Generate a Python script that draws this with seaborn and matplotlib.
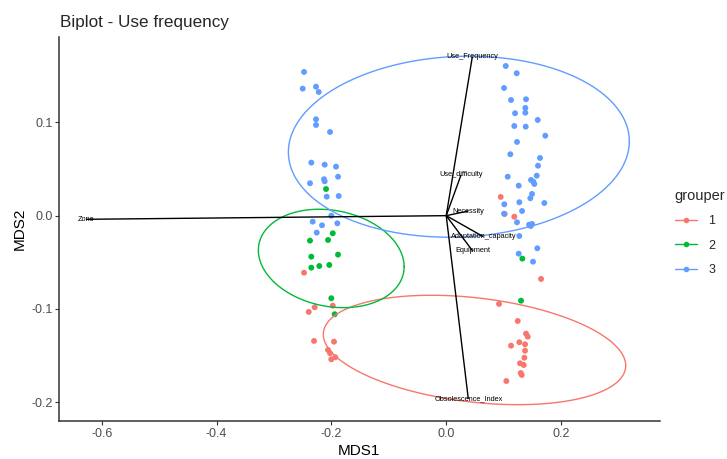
import numpy as np
import pandas as pd
import matplotlib
matplotlib.use("Agg")
import matplotlib.pyplot as plt
from matplotlib.lines import Line2D
import seaborn as sns

# ---------------- data ----------------
groups = ["1", "2", "3"]
colors = ["#F8766D", "#00BA38", "#619CFF"]

mds1_g1 = [-0.2477, -0.2291, -0.2395, -0.1977, -0.2303, -0.1955, -0.2059, -0.2024, -0.2002, -0.1932,
           0.0949, 0.1019, 0.1186, 0.1652, 0.0920, 0.1246, 0.1390, 0.1420, 0.1129, 0.1273,
           0.1373, 0.1373, 0.1361, 0.1286, 0.1350, 0.1298, 0.1315, 0.1047]
mds2_g1 = [-0.0612, -0.0983, -0.1033, -0.0966, -0.1344, -0.1352, -0.1441, -0.1476, -0.1541, -0.1519,
           0.0201, 0.0018, -0.0011, -0.0679, -0.0947, -0.1130, -0.1266, -0.1298, -0.1395, -0.1358,
           -0.1380, -0.1449, -0.1524, -0.1584, -0.1602, -0.1688, -0.1709, -0.1774]

mds1_g2 = [-0.2094, -0.1977, -0.2373, -0.2059, -0.2350, -0.1885, -0.2350, -0.2211, -0.2037, -0.2002,
           -0.1943, 0.1326, 0.1303]
mds2_g2 = [0.0286, -0.0189, -0.0268, -0.0261, -0.0440, -0.0418, -0.0558, -0.0540, -0.0529, -0.0886,
           -0.1058, -0.0461, -0.0912]

mds1_g3 = [-0.2477, -0.2500, -0.2268, -0.2221, -0.2268, -0.2268, -0.2024, -0.2350, -0.2117, -0.1920,
           -0.1885, -0.2129, -0.2117, -0.2373, -0.2082, -0.1873, -0.2002, -0.2326, -0.2164, -0.1897,
           -0.2256,
           0.1037, 0.1228, 0.1007, 0.1129, 0.1390, 0.1378, 0.1199, 0.1378, 0.1594, 0.1186,
           0.1385, 0.1726, 0.1233, 0.1117, 0.1634, 0.1599, 0.1577, 0.1071, 0.1477, 0.1517,
           0.1535, 0.1263, 0.1495, 0.1465, 0.1012, 0.1273, 0.1709, 0.1321, 0.1007, 0.1233,
           0.1443, 0.1472, 0.1495, 0.1273, 0.1587, 0.1263, 0.1512]
mds2_g3 = [0.1542, 0.1363, 0.1384, 0.1327, 0.1034, 0.0973, 0.0898, 0.0569, 0.0547, 0.0526,
           0.0418, 0.0391, 0.0369, 0.0348, 0.0204, 0.0211, 0.0000, -0.0064, -0.0103, -0.0082,
           -0.0182,
           0.1606, 0.1528, 0.1370, 0.1241, 0.1249, 0.1156, 0.1099, 0.1105, 0.1027, 0.0962,
           0.0955, 0.0858, 0.0791, 0.0659, 0.0619, 0.0536, 0.0429, 0.0418, 0.0383, 0.0365,
           0.0340, 0.0322, 0.0233, 0.0187, 0.0122, 0.0144, 0.0136, 0.0050, 0.0021, -0.0071,
           -0.0097, -0.0111, -0.0089, -0.0218, -0.0350, -0.0408, -0.0494]

# ellipse parameters per group (centre, x half-extent, y half-extent, y offset at x-extreme)
ell_cx = [0.0493, -0.2003, 0.0220]
ell_cy = [-0.1441, -0.0459, 0.0740]
ell_xe = [0.2634, 0.1270, 0.2970]
ell_ye = [0.0587, 0.0528, 0.0971]
ell_r = [-0.0168, -0.0088, 0.0058]

# variable loadings (arrow tips)
var_names = ["Use_Frequency", "Use_difficulty", "Necessity", "Adaptation_capacity",
             "Equipment", "Obsolescence_Index", "Zone"]
var_x = [0.0455, 0.0258, 0.0385, 0.0646, 0.0461, 0.0385, -0.6275]
var_y = [0.1706, 0.0437, 0.0050, -0.0225, -0.0379, -0.1967, -0.0039]

x_ticks = [-0.6, -0.4, -0.2, 0.0, 0.2]
y_ticks = [-0.2, -0.1, 0.0, 0.1]

title = "Biplot - Use frequency"
legend_title = "grouper"

# ---------------- frame ----------------
df = pd.concat([
    pd.DataFrame({"MDS1": mds1_g1, "MDS2": mds2_g1, "grouper": "1"}),
    pd.DataFrame({"MDS1": mds1_g2, "MDS2": mds2_g2, "grouper": "2"}),
    pd.DataFrame({"MDS1": mds1_g3, "MDS2": mds2_g3, "grouper": "3"}),
], ignore_index=True)

sns.set_style("ticks")
plt.rcParams["font.family"] = ["Liberation Sans", "DejaVu Sans"]

fig = plt.figure(figsize=(7.27, 4.59), dpi=100)
ax = fig.add_axes([0.0816, 0.0828, 0.9072 - 0.0816, 0.920 - 0.0828])

palette = dict(zip(groups, colors))
sns.scatterplot(data=df, x="MDS1", y="MDS2", hue="grouper", hue_order=groups,
                palette=palette, s=18, linewidth=0, ax=ax, legend=False, zorder=2)

t = np.linspace(0, 2 * np.pi, 300)
for g, cx, cy, xe, ye, r in zip(groups, ell_cx, ell_cy, ell_xe, ell_ye, ell_r):
    ex = cx + xe * np.cos(t)
    ey = cy + r * np.cos(t) + np.sqrt(ye ** 2 - r ** 2) * np.sin(t)
    ax.plot(ex, ey, color=palette[g], lw=1.0, zorder=3)

for name, vx, vy in zip(var_names, var_x, var_y):
    ax.plot([0, vx], [0, vy], color="black", lw=1.0, zorder=4, solid_capstyle="butt")
    ax.text(vx, vy, name, fontsize=5.3, ha="center", va="center", color="black", zorder=5)

ax.set_xlim(-0.674, 0.3716)
ax.set_ylim(-0.2203, 0.192)
ax.set_xticks(x_ticks)
ax.set_yticks(y_ticks)
ax.set_xticklabels([f"{v:.1f}" for v in x_ticks])
ax.set_yticklabels([f"{v:.1f}" for v in y_ticks])
ax.tick_params(axis="both", labelsize=9, labelcolor="#4d4d4d", color="#333333",
               length=3, width=0.8, pad=2)
for s in ["top", "right"]:
    ax.spines[s].set_visible(False)
for s in ["left", "bottom"]:
    ax.spines[s].set_color("#333333")
    ax.spines[s].set_linewidth(1.1)
ax.grid(False)
ax.set_xlabel("MDS1", fontsize=11, color="black", labelpad=3)
ax.set_ylabel("MDS2", fontsize=11, color="black", labelpad=3)

fig.text(60.5 / 727, 1 - 22 / 459, title, fontsize=12.3, ha="left", va="center")

handles = [Line2D([0], [0], color=c, lw=1.0, marker="o", markersize=4, markeredgewidth=0)
           for c in colors]
leg = fig.legend(handles, groups, title=legend_title, loc="upper left",
                 bbox_to_anchor=(667 / 727, 1 - 181 / 459), frameon=False,
                 fontsize=9, title_fontsize=10.5, handlelength=1.8, labelspacing=1.0,
                 handletextpad=0.9, alignment="left", borderaxespad=0.2)

fig.savefig("out.png", dpi=100)
